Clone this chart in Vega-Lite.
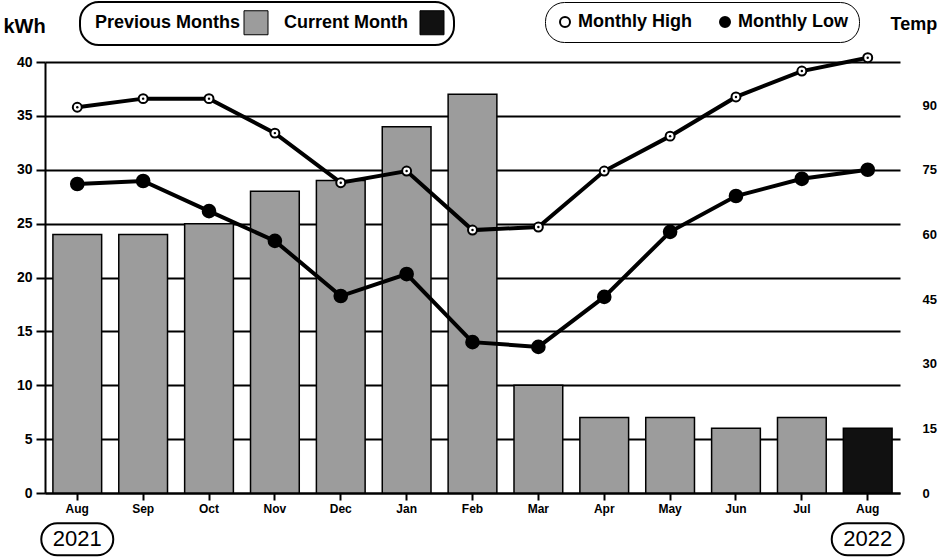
{
  "$schema": "https://vega.github.io/schema/vega-lite/v6.json",
  "autosize": {"type": "none"},
  "padding": {"left": 45, "top": 62, "right": 42, "bottom": 65},
  "width": 855,
  "height": 431,
  "background": "white",
  "config": {
    "view": {"stroke": null},
    "font": "Liberation Sans"
  },
  "datasets": {
    "kwh": [
      {"month": "Aug 2021", "kwh": 24, "period": "Previous Months"},
      {"month": "Sep 2021", "kwh": 24, "period": "Previous Months"},
      {"month": "Oct 2021", "kwh": 25, "period": "Previous Months"},
      {"month": "Nov 2021", "kwh": 28, "period": "Previous Months"},
      {"month": "Dec 2021", "kwh": 29, "period": "Previous Months"},
      {"month": "Jan 2022", "kwh": 34, "period": "Previous Months"},
      {"month": "Feb 2022", "kwh": 37, "period": "Previous Months"},
      {"month": "Mar 2022", "kwh": 10, "period": "Previous Months"},
      {"month": "Apr 2022", "kwh": 7, "period": "Previous Months"},
      {"month": "May 2022", "kwh": 7, "period": "Previous Months"},
      {"month": "Jun 2022", "kwh": 6, "period": "Previous Months"},
      {"month": "Jul 2022", "kwh": 7, "period": "Previous Months"},
      {"month": "Aug 2022", "kwh": 6, "period": "Current Month"}
    ],
    "temp": [
      {"month": "Aug 2021", "series": "Monthly High", "temp": 89.5},
      {"month": "Sep 2021", "series": "Monthly High", "temp": 91.5},
      {"month": "Oct 2021", "series": "Monthly High", "temp": 91.5},
      {"month": "Nov 2021", "series": "Monthly High", "temp": 83.5},
      {"month": "Dec 2021", "series": "Monthly High", "temp": 72},
      {"month": "Jan 2022", "series": "Monthly High", "temp": 74.7},
      {"month": "Feb 2022", "series": "Monthly High", "temp": 61},
      {"month": "Mar 2022", "series": "Monthly High", "temp": 61.7},
      {"month": "Apr 2022", "series": "Monthly High", "temp": 74.7},
      {"month": "May 2022", "series": "Monthly High", "temp": 82.8},
      {"month": "Jun 2022", "series": "Monthly High", "temp": 91.9},
      {"month": "Jul 2022", "series": "Monthly High", "temp": 97.9},
      {"month": "Aug 2022", "series": "Monthly High", "temp": 101},
      {"month": "Aug 2021", "series": "Monthly Low", "temp": 71.7},
      {"month": "Sep 2021", "series": "Monthly Low", "temp": 72.4},
      {"month": "Oct 2021", "series": "Monthly Low", "temp": 65.4},
      {"month": "Nov 2021", "series": "Monthly Low", "temp": 58.5},
      {"month": "Dec 2021", "series": "Monthly Low", "temp": 45.7},
      {"month": "Jan 2022", "series": "Monthly Low", "temp": 50.8},
      {"month": "Feb 2022", "series": "Monthly Low", "temp": 35},
      {"month": "Mar 2022", "series": "Monthly Low", "temp": 33.9},
      {"month": "Apr 2022", "series": "Monthly Low", "temp": 45.5},
      {"month": "May 2022", "series": "Monthly Low", "temp": 60.6},
      {"month": "Jun 2022", "series": "Monthly Low", "temp": 68.9},
      {"month": "Jul 2022", "series": "Monthly Low", "temp": 72.9},
      {"month": "Aug 2022", "series": "Monthly Low", "temp": 75}
    ],
    "years": [
      {"month": "Aug 2021", "year": "2021"},
      {"month": "Aug 2022", "year": "2022"}
    ]
  },
  "encoding": {
    "x": {
      "field": "month",
      "type": "nominal",
      "scale": {
        "domain": ["Aug 2021", "Sep 2021", "Oct 2021", "Nov 2021", "Dec 2021", "Jan 2022", "Feb 2022", "Mar 2022", "Apr 2022", "May 2022", "Jun 2022", "Jul 2022", "Aug 2022"],
        "paddingInner": 0.26,
        "paddingOuter": 0.12
      },
      "axis": {
        "title": null,
        "labelExpr": "split(datum.label, ' ')[0]",
        "labelAngle": 0,
        "labelFont": "Liberation Sans",
        "labelFontSize": 12,
        "labelFontWeight": "bold",
        "labelColor": "black",
        "labelPadding": 3,
        "tickSize": 7,
        "tickWidth": 2,
        "tickColor": "black",
        "domainColor": "black",
        "domainWidth": 2,
        "grid": false
      }
    }
  },
  "layer": [
    {
      "data": {"name": "kwh"},
      "mark": {"type": "bar", "stroke": "black", "strokeWidth": 1.5},
      "encoding": {
        "y": {
          "field": "kwh",
          "type": "quantitative",
          "scale": {"domain": [0, 40], "nice": false},
          "axis": {
            "values": [0, 5, 10, 15, 20, 25, 30, 35, 40],
            "grid": true,
            "gridColor": "black",
            "gridWidth": 2,
            "gridOpacity": 1,
            "tickSize": 9,
            "tickWidth": 2,
            "tickColor": "black",
            "domainColor": "black",
            "domainWidth": 2,
            "labelFont": "Liberation Sans",
            "labelFontSize": 14,
            "labelFontWeight": "bold",
            "labelColor": "black",
            "labelPadding": 4,
            "title": "kWh",
            "titleAngle": 0,
            "titleX": -42,
            "titleY": -36,
            "titleAlign": "left",
            "titleBaseline": "middle",
            "titleFont": "Liberation Sans",
            "titleFontSize": 20,
            "titleFontWeight": "bold",
            "titleColor": "black"
          }
        },
        "color": {
          "field": "period",
          "type": "nominal",
          "scale": {"domain": ["Previous Months", "Current Month"], "range": ["#9c9c9c", "#111111"]},
          "legend": {
            "orient": "none",
            "legendX": 35,
            "legendY": -60,
            "direction": "horizontal",
            "title": null,
            "strokeColor": "black",
            "cornerRadius": 19,
            "padding": 8,
            "symbolType": "square",
            "symbolSize": 576,
            "symbolStrokeColor": "black",
            "symbolStrokeWidth": 1,
            "labelFont": "Liberation Sans",
            "labelFontSize": 18,
            "labelFontWeight": "bold",
            "labelColor": "black",
            "labelLimit": 300,
            "columnPadding": 7,
            "encode": {
              "legend": {"update": {"strokeWidth": {"value": 2}}},
              "labels": {"update": {"x": {"value": 7}, "align": {"value": "left"}}},
              "symbols": {"update": {"x": {"signal": "datum.label === 'Previous Months' ? 168 : 155"}}}
            }
          }
        }
      }
    },
    {
      "data": {"name": "temp"},
      "mark": {"type": "line", "stroke": "black", "strokeWidth": 4},
      "encoding": {
        "y": {
          "field": "temp",
          "type": "quantitative",
          "scale": {"domain": [0, 100], "nice": false},
          "axis": {
            "orient": "right",
            "values": [0, 15, 30, 45, 60, 75, 90],
            "grid": false,
            "ticks": false,
            "domain": false,
            "labelFont": "Liberation Sans",
            "labelFontSize": 13,
            "labelFontWeight": "bold",
            "labelColor": "black",
            "labelPadding": 22,
            "title": "Temp",
            "titleAngle": 0,
            "titleX": -10,
            "titleY": -38,
            "titleAlign": "left",
            "titleBaseline": "middle",
            "titleFont": "Liberation Sans",
            "titleFontSize": 18,
            "titleFontWeight": "bold",
            "titleColor": "black"
          }
        },
        "detail": {"field": "series"}
      }
    },
    {
      "data": {"name": "temp"},
      "transform": [{"filter": "datum.series === 'Monthly High'"}],
      "mark": {"type": "point", "shape": "circle", "stroke": "black", "strokeWidth": 2, "opacity": 1, "filled": true, "size": 80},
      "encoding": {
        "y": {"field": "temp", "type": "quantitative", "scale": {"domain": [0, 100], "nice": false}, "axis": null},
        "color": {
          "field": "series",
          "type": "nominal",
          "scale": {"domain": ["Monthly High", "Monthly Low"], "range": ["white", "black"]},
          "legend": {
            "orient": "none",
            "legendX": 500,
            "legendY": -60,
            "direction": "horizontal",
            "title": null,
            "strokeColor": "black",
            "cornerRadius": 19,
            "padding": 11,
            "symbolType": "circle",
            "symbolStrokeColor": "black",
            "symbolStrokeWidth": 2,
            "labelFont": "Liberation Sans",
            "labelFontSize": 18,
            "labelFontWeight": "bold",
            "labelColor": "black",
            "labelLimit": 300,
            "columnPadding": 24,
            "encode": {
              "legend": {"update": {"strokeWidth": {"value": 2}}},
              "labels": {"update": {"x": {"value": 2}, "align": {"value": "left"}}},
              "symbols": {"update": {
                "x": {"signal": "datum.label === 'Monthly High' ? 130 : 125"},
                "size": {"signal": "datum.label === 'Monthly High' ? 60 : 150"},
                "stroke": {"value": "black"},
                "strokeWidth": {"value": 2}
              }}
            }
          }
        }
      }
    },
    {
      "data": {"name": "temp"},
      "transform": [{"filter": "datum.series === 'Monthly Low'"}],
      "mark": {"type": "point", "shape": "circle", "fill": "black", "stroke": "black", "opacity": 1, "filled": true, "size": 160},
      "encoding": {
        "y": {"field": "temp", "type": "quantitative", "scale": {"domain": [0, 100], "nice": false}, "axis": null}
      }
    },
    {
      "data": {"name": "temp"},
      "transform": [{"filter": "datum.series === 'Monthly High'"}],
      "mark": {"type": "point", "shape": "circle", "fill": "black", "stroke": "black", "strokeWidth": 0, "opacity": 1, "filled": true, "size": 6},
      "encoding": {
        "y": {"field": "temp", "type": "quantitative", "scale": {"domain": [0, 100], "nice": false}, "axis": null}
      }
    },
    {
      "data": {"name": "years"},
      "mark": {"type": "point", "shape": "M -0.556 -0.444 L 0.556 -0.444 A 0.444 0.444 0 0 1 0.556 0.444 L -0.556 0.444 A 0.444 0.444 0 0 1 -0.556 -0.444 Z", "size": 5184, "stroke": "black", "strokeWidth": 2, "fill": "white", "filled": true, "opacity": 1, "clip": false},
      "encoding": {
        "y": {"datum": -4.3, "type": "quantitative", "scale": {"domain": [0, 40], "nice": false}, "axis": null}
      }
    },
    {
      "data": {"name": "years"},
      "mark": {"type": "text", "fontSize": 22, "font": "Liberation Sans", "fill": "black", "baseline": "middle", "align": "center"},
      "encoding": {
        "y": {"datum": -4.3, "type": "quantitative", "scale": {"domain": [0, 40], "nice": false}, "axis": null},
        "text": {"field": "year"}
      }
    }
  ],
  "resolve": {"scale": {"y": "independent", "color": "independent"}, "axis": {"y": "independent"}, "legend": {"color": "independent"}}
}
